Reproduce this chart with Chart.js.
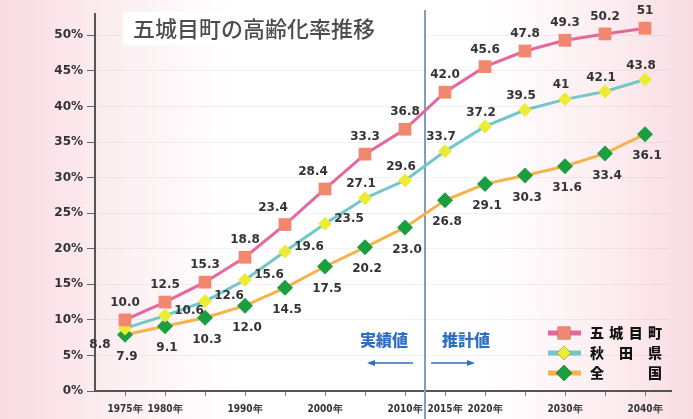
<!DOCTYPE html>
<html>
<head>
<meta charset="utf-8">
<script src="https://cdn.jsdelivr.net/npm/chart.js@4.4.1/dist/chart.umd.min.js"></script>
<style>
  html, body { margin: 0; padding: 0; }
  body {
    width: 693px; height: 419px; overflow: hidden;
    background: linear-gradient(to right, #f8dbe3 0%, #fcf0f3 18%, #ffffff 34%, #ffffff 70%, #fcedf1 88%, #f8dce4 100%);
  }
  #wrap { position: relative; width: 693px; height: 419px; }
</style>
</head>
<body>
<div id="wrap"><canvas id="chart1" width="693" height="419"></canvas></div>
<script>
// 高齢化率の推移 (%)
const years        = [1975, 1980, 1985, 1990, 1995, 2000, 2005, 2010, 2015, 2020, 2025, 2030, 2035, 2040];
const xLabelYears  = [1975, 1980, 1990, 2000, 2010, 2015, 2020, 2030, 2040];
const yTicks       = [0, 5, 10, 15, 20, 25, 30, 35, 40, 45, 50];
const seriesNames  = ["五城目町", "秋田県", "全国"];

// 値は表示どおりの文字列で持つ
const gojome  = ["10.0", "12.5", "15.3", "18.8", "23.4", "28.4", "33.3", "36.8", "42.0", "45.6", "47.8", "49.3", "50.2", "51"];
const akita   = ["8.8", "10.6", "12.6", "15.6", "19.6", "23.5", "27.1", "29.6", "33.7", "37.2", "39.5", "41", "42.1", "43.8"];
const zenkoku = ["7.9", "9.1", "10.3", "12.0", "14.5", "17.5", "20.2", "23.0", "26.8", "29.1", "30.3", "31.6", "33.4", "36.1"];

const splitYear = 2012.5; // 実績値 / 推計値 の境目

function toPoints(arr){
    return years.map((y, i) => ({ x: y, y: parseFloat(arr[i]) }));
}

// ラベル位置 (系列ごと)
function labelOffset(di, i){
    if(di == 0){
        if(i == 4 || i == 5) return [-12, -17];
        return [0, -17];
    }else if(di == 1){
        if(i == 0) return [-25, 16];
        if(i <= 5) return [24, -5];
        return [-4, -14];
    }
    return [2, 22];
}

const dataLabelPlugin = {
    id: "dataLabels",
    afterDatasetsDraw(chart){
        const ctx = chart.ctx;
        ctx.save();
        ctx.font = "bold 12px 'DejaVu Sans', sans-serif";
        ctx.fillStyle = "#333";
        ctx.textAlign = "center";
        ctx.textBaseline = "middle";
        chart.data.datasets.forEach((ds, di) => {
            const meta = chart.getDatasetMeta(di);
            meta.data.forEach((pt, i) => {
                const off = labelOffset(di, i);
                ctx.fillText(ds.texts[i], pt.x + off[0], pt.y + off[1]);
            });
        });
        ctx.restore();
    }
};

const decoPlugin = {
    id: "deco",
    beforeDatasetsDraw(chart){
        const ctx = chart.ctx;
        const xs = chart.scales.x;
        const lx = xs.getPixelForValue(splitYear);
        ctx.save();
        // 境目の縦線
        ctx.strokeStyle = "#7f9dc6";
        ctx.lineWidth = 2;
        ctx.beginPath();
        ctx.moveTo(lx, 10);
        ctx.lineTo(lx, 419);
        ctx.stroke();

        // 実績値 / 推計値
        ctx.fillStyle = "#2f6fc2";
        ctx.font = "900 16px 'Noto Sans CJK JP', sans-serif";
        ctx.textAlign = "center";
        ctx.textBaseline = "middle";
        ctx.fillText("実績値", lx - 41, 340);
        ctx.fillText("推計値", lx + 41, 340);

        ctx.strokeStyle = "#2f6fc2";
        ctx.lineWidth = 1.5;
        ctx.beginPath();
        ctx.moveTo(lx - 12, 363); ctx.lineTo(lx - 56, 363);
        ctx.moveTo(lx + 6, 363); ctx.lineTo(lx + 48, 363);
        ctx.stroke();
        ctx.beginPath();
        ctx.moveTo(lx - 58, 363); ctx.lineTo(lx - 50, 360); ctx.lineTo(lx - 50, 366); ctx.closePath();
        ctx.moveTo(lx + 50, 363); ctx.lineTo(lx + 42, 360); ctx.lineTo(lx + 42, 366); ctx.closePath();
        ctx.fill();
        ctx.restore();
    },
    afterDraw(chart){
        const ctx = chart.ctx;
        ctx.save();
        // タイトル
        ctx.fillStyle = "#ffffff";
        ctx.fillRect(123, 12, 301, 33);
        ctx.fillStyle = "#4d4d4d";
        ctx.font = "500 22px 'Noto Sans CJK JP', sans-serif";
        ctx.textAlign = "left";
        ctx.textBaseline = "middle";
        ctx.fillText("五城目町の高齢化率推移", 133, 29);

        // 凡例
        const rowsY = [333, 353, 373];
        chart.data.datasets.forEach((ds, di) => {
            const y = rowsY[di];
            ctx.strokeStyle = ds.borderColor;
            ctx.lineWidth = 5;
            ctx.beginPath();
            ctx.moveTo(548, y); ctx.lineTo(581, y);
            ctx.stroke();
            Chart.helpers.drawPoint(ctx, {
                pointStyle: ds.pointStyle, radius: ds.pointRadius, borderWidth: 0
            }, 564, y);
            ctx.fillStyle = ds.pointBackgroundColor;
            ctx.fill();

            const chars = seriesNames[di].split("");
            ctx.fillStyle = "#111";
            ctx.font = "900 14px 'Noto Sans CJK JP', sans-serif";
            ctx.textAlign = "left";
            const x0 = 590, w = 72, cw = 14;
            chars.forEach((c, k) => {
                ctx.fillText(c, x0 + k * (w - cw) / (chars.length - 1), y);
            });
        });
        ctx.restore();
    }
};

const ctx1 = document.getElementById("chart1").getContext("2d");
const chart1 = new Chart(ctx1, {
    type: "line",
    data: {
        datasets: [
            {
                label: seriesNames[0],
                data: toPoints(gojome),
                texts: gojome,
                borderColor: "#e6679d",
                borderWidth: 3,
                pointStyle: "rect",
                pointRadius: 9,
                pointBackgroundColor: "#f2876f",
                pointBorderWidth: 0
            },
            {
                label: seriesNames[1],
                data: toPoints(akita),
                texts: akita,
                borderColor: "#72c7c9",
                borderWidth: 3,
                pointStyle: "rectRot",
                pointRadius: 7,
                pointBackgroundColor: "#ecec34",
                pointBorderWidth: 0
            },
            {
                label: seriesNames[2],
                data: toPoints(zenkoku),
                texts: zenkoku,
                borderColor: "#f5b34c",
                borderWidth: 3,
                pointStyle: "rectRot",
                pointRadius: 8,
                pointBackgroundColor: "#1b9e40",
                pointBorderWidth: 0
            }
        ]
    },
    options: {
        responsive: false,
        animation: false,
        layout: { padding: { top: 14, right: 22, left: 0, bottom: 0 } },
        plugins: {
            legend: { display: false },
            tooltip: { enabled: false }
        },
        scales: {
            x: {
                type: "linear",
                min: 1971.25,
                max: 2043.25,
                afterBuildTicks: s => { s.ticks = years.map(v => ({ value: v })); },
                afterFit: s => { s.height = 28; },
                ticks: {
                    autoSkip: false,
                    maxRotation: 0,
                    padding: 7,
                    color: "#333",
                    font: { family: "'DejaVu Sans Condensed', 'Liberation Sans Narrow', sans-serif", size: 10, weight: "bold" },
                    callback: v => xLabelYears.includes(v) ? v + "年" : ""
                },
                grid: { drawOnChartArea: false, tickLength: 5, tickColor: "#777" },
                border: { color: "#555", width: 2 }
            },
            y: {
                min: 0,
                max: 53,
                afterBuildTicks: s => { s.ticks = yTicks.map(v => ({ value: v })); },
                afterFit: s => { s.width = 95; },
                ticks: {
                    padding: 4,
                    color: "#333",
                    font: { family: "'DejaVu Sans', sans-serif", size: 12, weight: "bold" },
                    callback: v => v + "%"
                },
                grid: { color: "rgba(0,0,0,0.05)", tickLength: 8, tickColor: "#666" },
                border: { color: "#555", width: 2 }
            }
        }
    },
    plugins: [decoPlugin, dataLabelPlugin]
});
</script>
</body>
</html>
